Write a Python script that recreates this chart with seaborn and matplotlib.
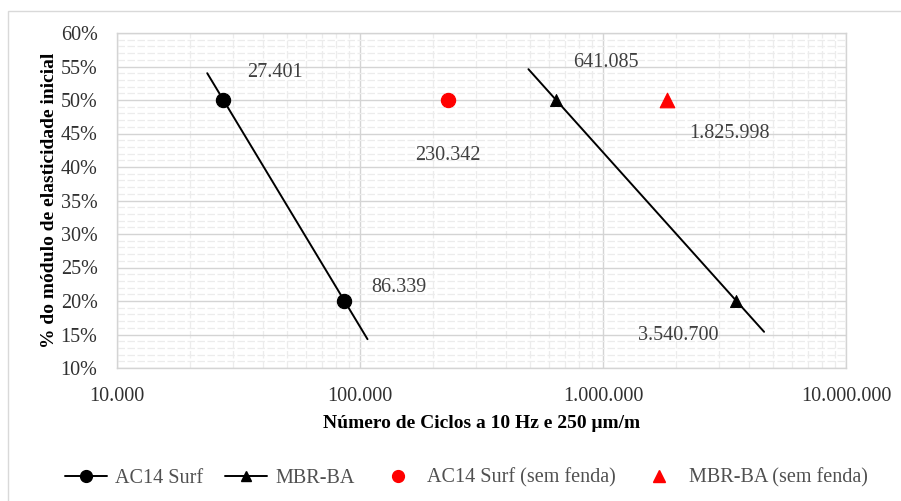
import numpy as np
import pandas as pd
import matplotlib
matplotlib.use("Agg")
import matplotlib.pyplot as plt
from matplotlib.lines import Line2D
from matplotlib.patches import Rectangle
from matplotlib.ticker import FixedLocator, FuncFormatter, LogLocator, MultipleLocator
import seaborn as sns

# ---- data ----
ac14_cycles = [27401, 86339]
ac14_pct = [50, 20]
mbr_cycles = [641085, 3540700]
mbr_pct = [50, 20]
ac14_sf_cycles = [230342]
ac14_sf_pct = [50]
mbr_sf_cycles = [1825998]
mbr_sf_pct = [50]
# extent (in %) of the plotted trend lines
ac14_trend_pct = [54.0, 14.3]
mbr_trend_pct = [54.6, 15.4]
label_texts = ["27.401", "86.339", "230.342", "641.085", "1.825.998", "3.540.700"]
x_ticks = [10000, 100000, 1000000, 10000000]
y_ticks = [10, 15, 20, 25, 30, 35, 40, 45, 50, 55, 60]

sns.set_theme(style="white")
plt.rcParams['font.family'] = ['Liberation Serif', 'DejaVu Serif']

def trend(xs, ys, yext):
    lx = np.log10(xs)
    slope, inter = np.polyfit(ys, lx, 1)
    yy = np.array(yext)
    return pd.DataFrame({"x": 10 ** (slope * yy + inter), "y": yy})

fig = plt.figure(figsize=(9.01, 5.01), dpi=100)
fig.patch.set_facecolor("white")
fig.patches.append(Rectangle((8 / 901, -0.1), 1.2, 1 - 11 / 501 + 0.1, transform=fig.transFigure,
                             fill=False, edgecolor="#d9d9d9", linewidth=1.0))
ax = fig.add_axes([117 / 901, 1 - 368 / 501, (846 - 117) / 901, (368 - 33) / 501])

ax.set_xscale("log")
ax.set_xlim(10000, 10000000)
ax.set_ylim(10, 60)

t1 = trend(ac14_cycles, ac14_pct, ac14_trend_pct)
t2 = trend(mbr_cycles, mbr_pct, mbr_trend_pct)
sns.lineplot(data=t1, x="x", y="y", ax=ax, color="black", linewidth=1.4, sort=False, zorder=3)
sns.lineplot(data=t2, x="x", y="y", ax=ax, color="black", linewidth=1.4, sort=False, zorder=3)

sns.scatterplot(x=ac14_cycles, y=ac14_pct, ax=ax, marker="o", s=105, color="black", edgecolor="black", zorder=4)
sns.scatterplot(x=mbr_cycles, y=mbr_pct, ax=ax, marker="^", s=75, color="black", edgecolor="black", zorder=4)
sns.scatterplot(x=ac14_sf_cycles, y=ac14_sf_pct, ax=ax, marker="o", s=105, color="#ff0000", edgecolor="#ff0000", zorder=4)
sns.scatterplot(x=mbr_sf_cycles, y=mbr_sf_pct, ax=ax, marker="^", s=110, color="#ff0000", edgecolor="#ff0000", zorder=4)

# grid
ax.xaxis.set_major_locator(FixedLocator(x_ticks))
ax.xaxis.set_minor_locator(LogLocator(base=10, subs=np.arange(2, 10)))
ax.yaxis.set_major_locator(FixedLocator(y_ticks))
ax.yaxis.set_minor_locator(MultipleLocator(1))
ax.grid(which="major", color="#d4d4d4", linewidth=1.0, linestyle="-")
ax.grid(which="minor", color="#ececec", linewidth=0.9, linestyle=(0, (6, 2)))
ax.set_axisbelow(True)
for s in ax.spines.values():
    s.set_color("#d4d4d4")
    s.set_linewidth(1.0)

ax.xaxis.set_major_formatter(FuncFormatter(lambda v, p: f"{int(round(v)):,}".replace(",", ".")))
ax.yaxis.set_major_formatter(FuncFormatter(lambda v, p: f"{int(round(v))}%"))
ax.tick_params(axis="both", which="both", length=0, labelsize=14.5, labelcolor="#303030")
ax.tick_params(axis="x", pad=14)
ax.tick_params(axis="y", pad=14)

ax.set_xlabel("Número de Ciclos a 10 Hz e 250 μm/m", fontsize=14, fontweight="bold", color="black", labelpad=6)
ax.set_ylabel("% do módulo de elasticidade inicial", fontsize=14, fontweight="bold", color="black", labelpad=2)

# data labels (offsets in points from each point)
pts = [(ac14_cycles[0], ac14_pct[0], 37, 20),
       (ac14_cycles[1], ac14_pct[1], 39, 10),
       (ac14_sf_cycles[0], ac14_sf_pct[0], 0, -40),
       (mbr_cycles[0], mbr_pct[0], 36, 27),
       (mbr_sf_cycles[0], mbr_sf_pct[0], 45, -24),
       (mbr_cycles[1], mbr_pct[1], -42, -25)]
for (x, y, dx, dy), txt in zip(pts, label_texts):
    ax.annotate(txt, (x, y), xytext=(dx, dy), textcoords="offset points",
                ha="center", va="center", fontsize=14.5, color="#404040")

handles = [
    Line2D([], [], color="black", marker="o", markersize=8.5, linewidth=1.4),
    Line2D([], [], color="black", marker="^", markersize=7, linewidth=1.4),
    Line2D([], [], color="#ff0000", marker="o", markersize=8.5, linewidth=0),
    Line2D([], [], color="#ff0000", marker="^", markersize=8.5, linewidth=0),
]
labels = ["AC14 Surf", "MBR-BA", "AC14 Surf (sem fenda)", "MBR-BA (sem fenda)"]
fig.legend(handles, labels, loc="center", bbox_to_anchor=(466 / 901, 1 - 478 / 501), ncol=4,
           frameon=False, fontsize=14.5, labelcolor="#505050", handlelength=2.1,
           columnspacing=1.1, handletextpad=0.4)

fig.savefig("out.png", dpi=100, facecolor="white")
